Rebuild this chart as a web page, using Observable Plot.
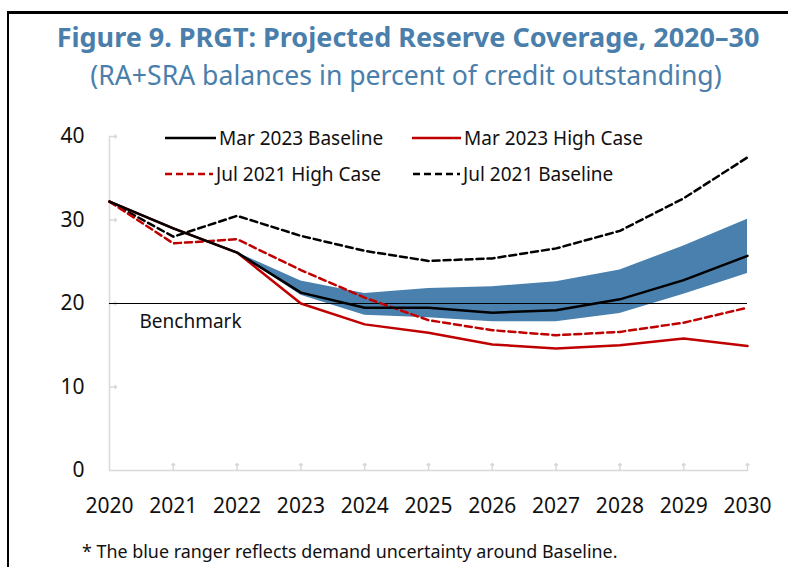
<!DOCTYPE html>
<html>
<head>
<meta charset="utf-8">
<script src="https://cdn.jsdelivr.net/npm/d3@7"></script>
<script src="https://cdn.jsdelivr.net/npm/@observablehq/plot@0.6"></script>
<style>
  html, body { margin: 0; padding: 0; background: #fff; }
  body { width: 788px; height: 567px; overflow: hidden; position: relative; font-family: "Noto Sans", "Open Sans", sans-serif; }
  #frame { position: absolute; left: 7px; top: 11px; width: 800px; height: 600px; border-left: 2px solid #000; border-top: 3px solid #000; }
  #title { position: absolute; left: 0; width: 816px; top: 18px; text-align: center; color: #4a7eab; font-weight: bold; font-size: 27px; line-height: 37px; white-space: nowrap; }
  #subtitle { position: absolute; left: 0; width: 812px; top: 57px; text-align: center; color: #4a7eab; font-size: 26.6px; line-height: 36px; white-space: nowrap; }
  #chart { position: absolute; left: 0; top: 0; }
  #legend { position: absolute; left: 0; top: 0; font-size: 19px; color: #111; }
  .li { position: absolute; display: flex; align-items: center; white-space: nowrap; }
  .li svg { margin-right: 3px; }
  #note { position: absolute; left: 82px; top: 538px; font-size: 17.9px; line-height: 26px; color: #111; white-space: nowrap; }
</style>
</head>
<body>
<div id="frame"></div>
<div id="title">Figure 9. PRGT: Projected Reserve Coverage, 2020–30</div>
<div id="subtitle">(RA+SRA balances in percent of credit outstanding)</div>
<div id="chart"></div>
<div id="legend"></div>
<div id="note">* The blue ranger reflects demand uncertainty around Baseline.</div>
<script>
const years = [2020, 2021, 2022, 2023, 2024, 2025, 2026, 2027, 2028, 2029, 2030];
const mar2023Baseline = [32.2, 29.0, 26.1, 21.3, 19.5, 19.5, 18.9, 19.2, 20.5, 22.8, 25.7];
const mar2023High     = [32.2, 29.0, 26.1, 20.0, 17.5, 16.5, 15.1, 14.6, 15.0, 15.8, 14.9];
const jul2021High     = [32.2, 27.2, 27.7, 24.0, 20.7, 18.0, 16.8, 16.2, 16.6, 17.7, 19.5];
const jul2021Baseline = [32.2, 28.0, 30.5, 28.1, 26.3, 25.1, 25.4, 26.6, 28.7, 32.6, 37.5];
const bandYears = [2022, 2023, 2024, 2025, 2026, 2027, 2028, 2029, 2030];
const bandLow   = [26.1, 21.0, 18.6, 18.3, 17.8, 17.8, 18.8, 21.1, 23.6];
const bandHigh  = [26.1, 22.7, 21.2, 21.8, 22.0, 22.6, 24.0, 26.9, 30.1];
const yTicks = [0, 10, 20, 30, 40];
const benchmark = 20;
const benchmarkLabel = "Benchmark";

const seriesNames = ["Mar 2023 Baseline", "Mar 2023 High Case", "Jul 2021 High Case", "Jul 2021 Baseline"];
const seriesValues = [mar2023Baseline, mar2023High, jul2021High, jul2021Baseline];
const seriesStyle = {
  "Mar 2023 Baseline": {stroke: "#000000", dash: null},
  "Mar 2023 High Case": {stroke: "#c00000", dash: null},
  "Jul 2021 High Case": {stroke: "#c00000", dash: "7,4"},
  "Jul 2021 Baseline": {stroke: "#000000", dash: "7,4"}
};

const band = bandYears.map((yr, i) => ({year: yr, low: bandLow[i], high: bandHigh[i]}));
const rows = (name, vals) => years.map((yr, i) => ({year: yr, value: vals[i], series: name}));

const drawOrder = ["Jul 2021 Baseline", "Jul 2021 High Case", "Mar 2023 High Case", "Mar 2023 Baseline"];
const lineMarks = drawOrder.map(name => {
  const st = seriesStyle[name];
  const opts = {x: "year", y: "value", stroke: st.stroke, strokeWidth: 2.5, curve: "linear"};
  if (st.dash) opts.strokeDasharray = st.dash;
  return Plot.line(rows(name, seriesValues[seriesNames.indexOf(name)]), opts);
});

const chart = Plot.plot({
  width: 788,
  height: 567,
  marginTop: 136,
  marginBottom: 97,
  marginLeft: 109,
  marginRight: 41,
  style: {fontFamily: "'Noto Sans', sans-serif", background: "transparent", overflow: "visible"},
  x: {domain: [years[0], years[years.length - 1]]},
  y: {domain: [0, 40]},
  marks: [
    Plot.ruleX([years[0]], {stroke: "#d9d9d9", strokeWidth: 1.5}),
    Plot.ruleY([0], {stroke: "#d9d9d9", strokeWidth: 1.5}),
    Plot.vector(yTicks.slice(1), {x: () => years[0], y: d => d, length: 7, rotate: 90, anchor: "start", stroke: "#d9d9d9", strokeWidth: 1.5}),
    Plot.vector(years.slice(1), {x: d => d, y: () => 0, length: 7, rotate: 0, anchor: "start", stroke: "#d9d9d9", strokeWidth: 1.5}),
    Plot.axisY({ticks: yTicks, tickSize: 0, tickPadding: 25, fontSize: 21, tickFormat: d => String(d), fill: "#111", label: null}),
    Plot.axisX({ticks: years, tickSize: 0, tickPadding: 28, fontSize: 21, tickFormat: d => String(d), fill: "#111", label: null}),
    Plot.areaY(band, {x: "year", y1: "low", y2: "high", fill: "#4a80ae"}),
    Plot.ruleY([benchmark], {stroke: "#000", strokeWidth: 1}),
    Plot.text([benchmarkLabel], {x: () => years[0], y: () => benchmark, text: d => d, textAnchor: "start", dx: 30, dy: 18, fontSize: 19, fill: "#111"}),
    ...lineMarks
  ]
});
document.getElementById("chart").appendChild(chart);

// legend
const legendPos = [
  {name: "Mar 2023 Baseline", left: 165, top: 138, w: 51},
  {name: "Mar 2023 High Case", left: 412, top: 138, w: 49},
  {name: "Jul 2021 High Case", left: 165, top: 174, w: 48},
  {name: "Jul 2021 Baseline", left: 413, top: 174, w: 47}
];
const leg = document.getElementById("legend");
legendPos.forEach(p => {
  const st = seriesStyle[p.name];
  const div = document.createElement("div");
  div.className = "li";
  div.style.left = p.left + "px";
  div.style.top = (p.top - 13) + "px";
  div.style.height = "26px";
  div.innerHTML = `<svg width="${p.w}" height="6"><line x1="0" y1="3" x2="${p.w}" y2="3" stroke="${st.stroke}" stroke-width="2.5" ${st.dash ? `stroke-dasharray="${st.dash}"` : ""}/></svg><span>${p.name}</span>`;
  leg.appendChild(div);
});
</script>
</body>
</html>
